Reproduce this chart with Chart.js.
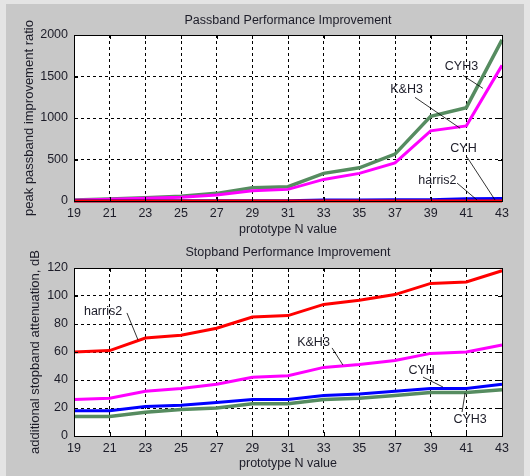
<!DOCTYPE html>
<html>
<head>
<meta charset="utf-8">
<script src="https://cdn.jsdelivr.net/npm/chart.js@4/dist/chart.umd.min.js"></script>
<style>
  body { margin: 0; background: #e4e4e4; }
  #fig { position: absolute; left: 6px; top: 4px; width: 518px; height: 472px; background: #c8c8c8; }
  .panel { position: absolute; left: 0; width: 530px; height: 238px; }
</style>
</head>
<body>
<div id="fig"></div>
<div class="panel" style="top:0"><canvas id="passChart" width="530" height="238"></canvas></div>
<div class="panel" style="top:238px"><canvas id="stopChart" width="530" height="238"></canvas></div>
<script>
// prototype N values (x axis)
const nValues = [19, 21, 23, 25, 27, 29, 31, 33, 35, 37, 39, 41, 43];

// Passband: peak passband improvement ratio
const harris2Pass = [1, 1, 1, 1, 1, 1, 1, 1, 1, 1, 1, 1, 1];
const cyhPass = [2, 2, 2, 3, 3, 3, 4, 12, 13, 14, 15, 28, 30];
const khPass = [10, 20, 32, 44, 72, 124, 140, 260, 333, 460, 845, 905, 1634];
const cyh3Pass = [12, 24, 40, 56, 92, 160, 172, 333, 400, 565, 1021, 1125, 1942];

// Stopband: additional stopband attenuation, dB
const harris2Stop = [60, 61, 70, 72, 77, 85, 86, 94, 97, 101, 109, 110, 118];
const khStop = [26, 27, 32, 34, 37, 42, 43, 49, 51, 54, 59, 60, 65];
const cyhStop = [18, 18, 21, 22, 24, 26, 26, 29, 30, 32, 34, 34, 37];
const cyh3Stop = [14, 14, 17, 19, 20, 23, 23, 26, 27, 29, 31, 31, 33];

// text labels with leader lines (text pos, line start, line tip in data units)
const passNotes = [
    { text: 'CYH3', tx: 40.73, ty: 1622, sx: 40.81, sy: 1513, px: 41.93, py: 1357 },
    { text: 'K&H3', tx: 37.65, ty: 1345, sx: 38.12, sy: 1249, px: 40.65, py: 877 },
    { text: 'CYH', tx: 40.84, ty: 637, sx: 41.04, sy: 529, px: 42.61, py: 12 },
    { text: 'harris2', tx: 39.38, ty: 252, sx: 40.48, sy: 216, px: 41.6, py: 12 }
];
const stopNotes = [
    { text: 'harris2', tx: 20.63, ty: 88.6, sx: 21.97, sy: 87.9, px: 22.59, py: 68.6 },
    { text: 'K&H3', tx: 32.43, ty: 66.8, sx: 33.47, sy: 62.9, px: 34.08, py: 50.7 },
    { text: 'CYH', tx: 38.49, ty: 47.1, sx: 38.57, sy: 42.1, px: 39.69, py: 35 },
    { text: 'CYH3', tx: 41.21, ty: 12.1, sx: 40.76, sy: 17.1, px: 40.93, py: 30.7 }
];

const FONT = "'Liberation Sans', Arial, sans-serif";
const TEXT = '#1c1c28';

function pts(values) {
    return nValues.map((n, i) => ({ x: n, y: values[i] }));
}

// white plot area, axes box with inward ticks, title centred over the axes
const boxPlugin = {
    id: 'box',
    beforeDraw(chart) {
        const a = chart.chartArea, ctx = chart.ctx;
        ctx.save();
        ctx.fillStyle = '#ffffff';
        ctx.fillRect(a.left, a.top, a.right - a.left, a.bottom - a.top);
        ctx.restore();
    },
    afterDraw(chart, args, opts) {
        const a = chart.chartArea, ctx = chart.ctx;
        const xs = chart.scales.x, ys = chart.scales.y;
        ctx.save();
        ctx.strokeStyle = '#000';
        ctx.lineWidth = 1;
        ctx.beginPath();
        xs.ticks.forEach(t => {
            const x = Math.round(xs.getPixelForValue(t.value)) + 0.5;
            ctx.moveTo(x, a.bottom); ctx.lineTo(x, a.bottom - 4);
            ctx.moveTo(x, a.top); ctx.lineTo(x, a.top + 4);
        });
        ys.ticks.forEach(t => {
            const y = Math.round(ys.getPixelForValue(t.value)) + 0.5;
            ctx.moveTo(a.left, y); ctx.lineTo(a.left + 4, y);
            ctx.moveTo(a.right, y); ctx.lineTo(a.right - 4, y);
        });
        ctx.stroke();
        ctx.strokeRect(Math.round(a.left) + 0.5, Math.round(a.top) + 0.5,
            Math.round(a.right - a.left), Math.round(a.bottom - a.top));
        // title
        ctx.fillStyle = TEXT;
        ctx.font = '12.5px ' + FONT;
        ctx.textAlign = 'center';
        ctx.textBaseline = 'middle';
        ctx.fillText(opts.title, (a.left + a.right) / 2, a.top - opts.titleGap);
        ctx.restore();
    }
};

const notesPlugin = {
    id: 'notes',
    afterDatasetsDraw(chart, args, opts) {
        const ctx = chart.ctx, xs = chart.scales.x, ys = chart.scales.y;
        ctx.save();
        (opts.items || []).forEach(n => {
            ctx.strokeStyle = '#000';
            ctx.lineWidth = 0.8;
            ctx.beginPath();
            ctx.moveTo(xs.getPixelForValue(n.sx), ys.getPixelForValue(n.sy));
            ctx.lineTo(xs.getPixelForValue(n.px), ys.getPixelForValue(n.py));
            ctx.stroke();
            ctx.fillStyle = TEXT;
            ctx.font = '12.5px ' + FONT;
            ctx.textAlign = 'center';
            ctx.textBaseline = 'middle';
            ctx.fillText(n.text, xs.getPixelForValue(n.tx), ys.getPixelForValue(n.ty));
        });
        ctx.restore();
    }
};

function makeChart(id, cfg) {
    const ctx = document.getElementById(id).getContext('2d');
    return new Chart(ctx, {
        type: 'line',
        data: {
            datasets: [
                { data: pts(cfg.red), borderColor: '#ff0000', borderWidth: 3, clip: false },
                { data: pts(cfg.blue), borderColor: '#0000ff', borderWidth: 3, clip: false },
                { data: pts(cfg.magenta), borderColor: '#ff00ff', borderWidth: 3, clip: false },
                { data: pts(cfg.green), borderColor: '#568c60', borderWidth: 3.5, clip: false }
            ]
        },
        options: {
            responsive: false,
            animation: false,
            elements: { point: { radius: 0 }, line: { tension: 0 } },
            layout: { padding: { left: 0, right: 28, top: cfg.topPad, bottom: 0 } },
            plugins: {
                legend: { display: false },
                tooltip: { enabled: false },
                title: { display: false },
                box: { title: cfg.title, titleGap: cfg.titleGap },
                notes: { items: cfg.notes }
            },
            scales: {
                x: {
                    type: 'linear',
                    min: 19, max: 43,
                    afterFit: s => { s.height = cfg.xHeight; },
                    ticks: { stepSize: 2, color: TEXT, padding: 5, font: { family: FONT, size: 12.5 },
                             callback: v => String(v) },
                    grid: { color: '#000', lineWidth: 1, drawTicks: false },
                    border: { color: '#000', dash: [3, 3] },
                    title: {
                        display: true, text: 'prototype N value', color: TEXT,
                        font: { family: FONT, size: 12.5 }, padding: { top: 0, bottom: cfg.xTitleBottom }
                    }
                },
                y: {
                    min: 0, max: cfg.yMax,
                    afterFit: s => { s.width = 74; },
                    ticks: { stepSize: cfg.yStep, color: TEXT, padding: 6, font: { family: FONT, size: 12.5 },
                             callback: v => String(v) },
                    grid: { color: '#000', lineWidth: 1, drawTicks: false },
                    border: { color: '#000', dash: [3, 3] },
                    title: {
                        display: true, text: cfg.yTitle, color: TEXT,
                        font: { family: FONT, size: 13 }, padding: { top: cfg.yTitlePad, bottom: 0 }
                    }
                }
            }
        },
        plugins: [boxPlugin, notesPlugin]
    });
}

// Passband chart
makeChart('passChart', {
    title: 'Passband Performance Improvement',
    topPad: 35, titleGap: 14,
    yTitle: 'peak passband improvement ratio',
    yTitlePad: 22,
    yMax: 2000, yStep: 500,
    xHeight: 37, xTitleBottom: 1,
    red: harris2Pass, blue: cyhPass, magenta: khPass, green: cyh3Pass,
    notes: passNotes
});

// Stopband chart
makeChart('stopChart', {
    title: 'Stopband Performance Improvement',
    topPad: 30, titleGap: 15,
    yTitle: 'additional stopband attenuation, dB',
    yTitlePad: 28,
    yMax: 120, yStep: 20,
    xHeight: 40, xTitleBottom: 5,
    red: harris2Stop, blue: cyhStop, magenta: khStop, green: cyh3Stop,
    notes: stopNotes
});
</script>
</body>
</html>
